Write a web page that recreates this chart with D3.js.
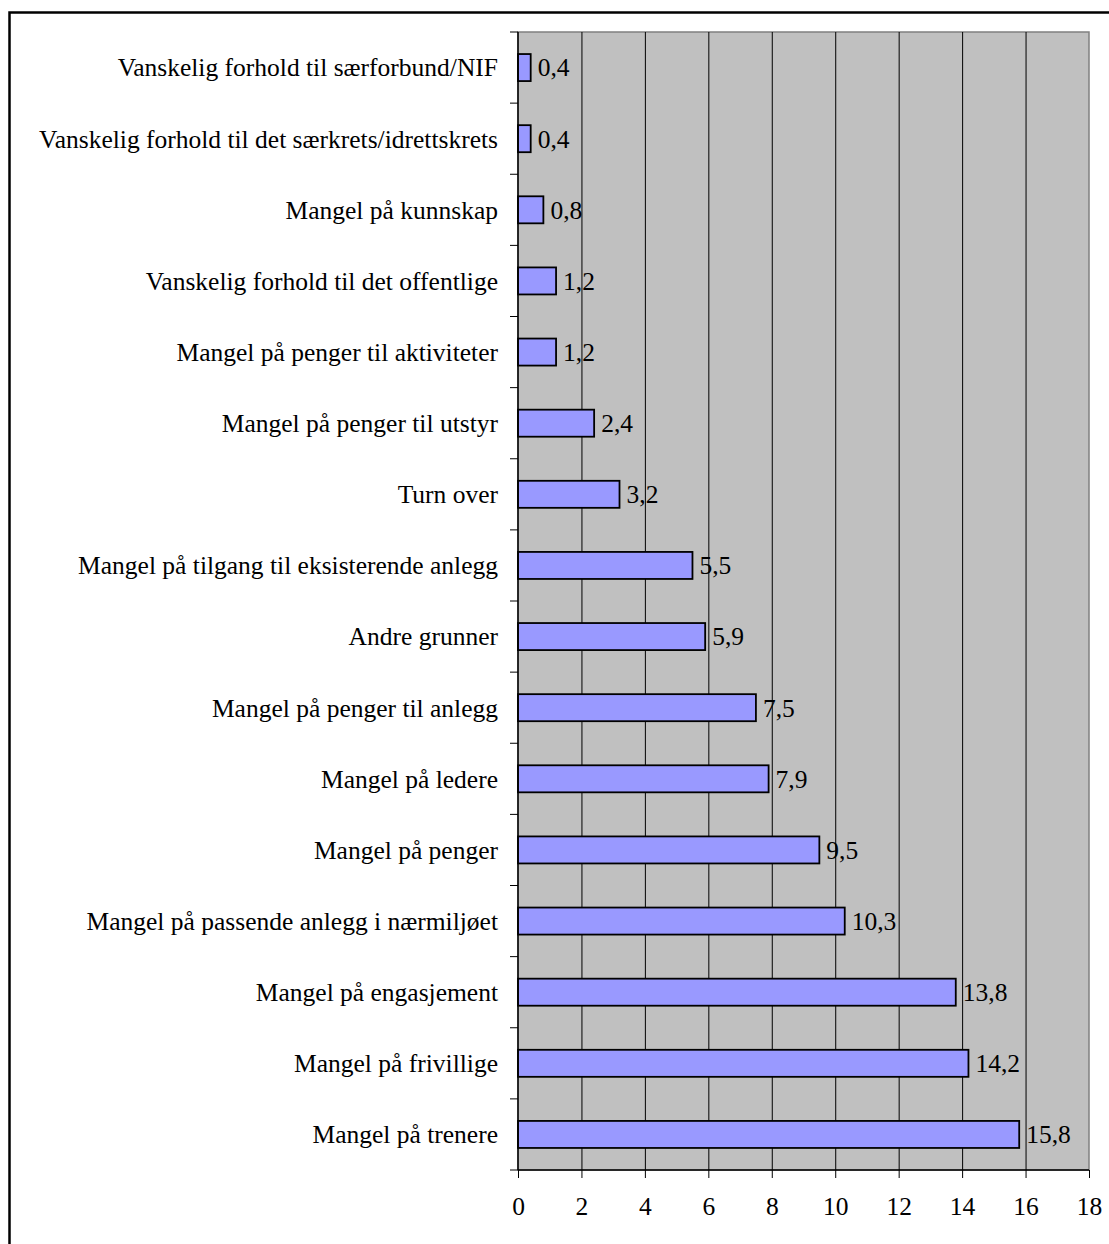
<!DOCTYPE html>
<html>
<head>
<meta charset="utf-8">
<title>Mangel</title>
<script src="https://cdn.jsdelivr.net/npm/d3@7"></script>
<style>
  body { margin: 0; background: #fff; }
  svg text { font-family: "Liberation Serif", "Times New Roman", serif; fill: #000; }
</style>
</head>
<body>
<script>
// categories top to bottom, as in the picture
var categories = [
  "Vanskelig forhold til særforbund/NIF",
  "Vanskelig forhold til det særkrets/idrettskrets",
  "Mangel på kunnskap",
  "Vanskelig forhold til det offentlige",
  "Mangel på penger til aktiviteter",
  "Mangel på penger til utstyr",
  "Turn over",
  "Mangel på tilgang til eksisterende anlegg",
  "Andre grunner",
  "Mangel på penger til anlegg",
  "Mangel på ledere",
  "Mangel på penger",
  "Mangel på passende anlegg i nærmiljøet",
  "Mangel på engasjement",
  "Mangel på frivillige",
  "Mangel på trenere"
];
var values = [0.4, 0.4, 0.8, 1.2, 1.2, 2.4, 3.2, 5.5, 5.9, 7.5, 7.9, 9.5, 10.3, 13.8, 14.2, 15.8];
var xTicks = [0, 2, 4, 6, 8, 10, 12, 14, 16, 18];

var W = 1109, H = 1244;
var pLeft = 518, pRight = 1089, pTop = 32, pBottom = 1170;
var fontSize = "25.5px";

var svg = d3.select("body").append("svg")
    .attr("width", W)
    .attr("height", H);

// outer frame
svg.append("rect")
    .attr("x", 9.5).attr("y", 12.5)
    .attr("width", W + 20).attr("height", H + 20)
    .attr("fill", "none")
    .attr("stroke", "#000")
    .attr("stroke-width", 2.5);

var x = d3.scaleLinear().domain([0, 18]).range([pLeft, pRight]);
var y = d3.scaleBand().domain(categories).range([pTop, pBottom]).paddingInner(0.62).paddingOuter(0.31);
var band = d3.scaleBand().domain(categories).range([pTop, pBottom]);

// plot area
svg.append("rect")
    .attr("x", pLeft).attr("y", pTop)
    .attr("width", pRight - pLeft).attr("height", pBottom - pTop)
    .attr("fill", "#c0c0c0")
    .attr("stroke", "#808080")
    .attr("stroke-width", 1.5);

// grid
svg.selectAll("line.grid")
    .data(xTicks.slice(1, -1))
    .enter()
    .append("line")
    .attr("class", "grid")
    .attr("x1", function(d) { return x(d) + 0.5; })
    .attr("x2", function(d) { return x(d) + 0.5; })
    .attr("y1", pTop)
    .attr("y2", pBottom)
    .attr("stroke", "#000")
    .attr("stroke-width", 1);

// bars
svg.selectAll("rect.bar")
    .data(values)
    .enter()
    .append("rect")
    .attr("class", "bar")
    .attr("x", x(0))
    .attr("y", function(d, i) { return y(categories[i]); })
    .attr("width", function(d) { return x(d) - x(0); })
    .attr("height", y.bandwidth())
    .attr("fill", "#9999ff")
    .attr("stroke", "#000")
    .attr("stroke-width", 1.8);

// value labels
svg.selectAll("text.val")
    .data(values)
    .enter()
    .append("text")
    .attr("class", "val")
    .attr("x", function(d) { return x(d) + 7; })
    .attr("y", function(d, i) { return y(categories[i]) + y.bandwidth() / 2; })
    .attr("dy", "0.35em")
    .attr("font-size", fontSize)
    .text(function(d) { return String(d).replace(".", ","); });

// x axis
var xAxis = d3.axisBottom(x).tickValues(xTicks).tickSize(8).tickPadding(19)
    .tickFormat(d3.format("d"));
var gx = svg.append("g")
    .attr("transform", "translate(0," + pBottom + ")")
    .call(xAxis);
gx.select(".domain").attr("stroke", "#000").attr("stroke-width", 1.5).attr("d", "M" + pLeft + ",0H" + pRight);
gx.selectAll(".tick line").attr("stroke", "#000");
gx.selectAll(".tick text")
    .attr("font-size", fontSize)
    .attr("font-family", "Liberation Serif, serif");

// y axis: ticks at category boundaries
var bounds = categories.map(function(c) { return band(c); }).concat([pBottom]);
svg.append("line")
    .attr("x1", pLeft).attr("x2", pLeft)
    .attr("y1", pTop).attr("y2", pBottom)
    .attr("stroke", "#000").attr("stroke-width", 1.5);
svg.selectAll("line.ytick")
    .data(bounds)
    .enter()
    .append("line")
    .attr("class", "ytick")
    .attr("x1", pLeft - 8).attr("x2", pLeft)
    .attr("y1", function(d) { return d; })
    .attr("y2", function(d) { return d; })
    .attr("stroke", "#000");

svg.selectAll("text.cat")
    .data(categories)
    .enter()
    .append("text")
    .attr("class", "cat")
    .attr("x", pLeft - 20)
    .attr("y", function(d) { return band(d) + band.bandwidth() / 2; })
    .attr("dy", "0.35em")
    .attr("text-anchor", "end")
    .attr("font-size", fontSize)
    .text(function(d) { return d; });
</script>
</body>
</html>
